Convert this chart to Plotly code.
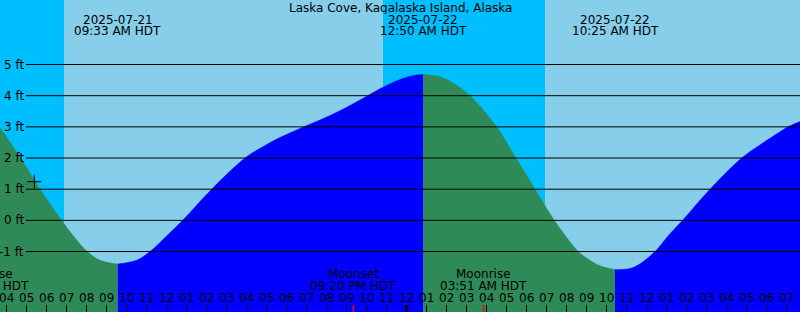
import plotly.graph_objects as go
import pandas as pd

# ---------------- data ----------------
title = "Laska Cove, Kagalaska Island, Alaska"

tide_times = [
    "2025-07-21 03:40", "2025-07-21 04:42", "2025-07-21 05:40", "2025-07-21 06:45",
    "2025-07-21 07:20", "2025-07-21 08:02", "2025-07-21 08:40", "2025-07-21 09:33",
    "2025-07-21 10:30", "2025-07-21 11:10", "2025-07-21 12:00", "2025-07-21 12:48",
    "2025-07-21 14:15", "2025-07-21 15:55", "2025-07-21 16:40", "2025-07-21 17:40",
    "2025-07-21 18:40", "2025-07-21 19:40", "2025-07-21 20:40", "2025-07-21 21:40",
    "2025-07-21 22:40", "2025-07-21 23:40", "2025-07-22 00:20", "2025-07-22 00:50",
    "2025-07-22 01:40", "2025-07-22 02:25", "2025-07-22 03:10", "2025-07-22 03:50",
    "2025-07-22 04:30", "2025-07-22 05:28", "2025-07-22 06:25", "2025-07-22 07:23",
    "2025-07-22 08:00", "2025-07-22 08:35", "2025-07-22 09:05", "2025-07-22 09:40",
    "2025-07-22 10:25", "2025-07-22 11:20", "2025-07-22 12:25", "2025-07-22 13:04",
    "2025-07-22 13:48", "2025-07-22 14:29", "2025-07-22 15:10", "2025-07-22 16:45",
    "2025-07-22 17:40", "2025-07-22 18:40", "2025-07-22 19:04", "2025-07-22 19:40",
]
tide_heights = [
    2.98, 2.0, 1.0, 0.0,
    -0.5, -1.0, -1.28, -1.40,
    -1.28, -1.0, -0.5, 0.0,
    1.0, 2.0, 2.31, 2.66,
    2.95, 3.22, 3.52, 3.86,
    4.22, 4.52, 4.65, 4.68,
    4.61, 4.37, 4.0, 3.54,
    3.0, 2.0, 1.0, 0.0,
    -0.55, -1.0, -1.25, -1.46,
    -1.58, -1.51, -1.0, -0.5,
    0.0, 0.51, 1.0, 2.0,
    2.42, 2.84, 3.0, 3.17,
]

# high / low events
event_times = ["2025-07-21 09:33", "2025-07-22 00:50", "2025-07-22 10:25"]
event_dates = ["2025-07-21", "2025-07-22", "2025-07-22"]
event_clock = ["09:33 AM HDT", "12:50 AM HDT", "10:25 AM HDT"]

# sun: daylight spans
day_starts = ["2025-07-21 06:52", "2025-07-22 06:55"]
day_ends = ["2025-07-21 22:49", "2025-07-22 19:40"]

# moon events
moon_times = ["2025-07-21 02:55", "2025-07-21 21:20", "2025-07-22 03:51"]
moon_names = ["Moonrise", "Moonset", "Moonrise"]
moon_clock = ["02:55 AM HDT", "09:20 PM HDT", "03:51 AM HDT"]

# current position marker
now_time = ["2025-07-21 05:23"]
now_height = [1.24]

midnight = "2025-07-22 00:00"

y_ticks = [-1, 0, 1, 2, 3, 4, 5]

x_start = "2025-07-21 03:40"
x_end = "2025-07-22 19:40"
y_range = [-2.94, 7.07]

# ---------------- styling ----------------
W, H = 800, 312
FONT = "DejaVu Sans"
NIGHT = "#00BFFF"
DAY = "#87CEEB"
RISE = "#0000FF"
FALL = "#2E8B57"


def ypaper(px):
    return 1 - px / H


t0 = pd.Timestamp(x_start)
t1 = pd.Timestamp(x_end)


def xpaper(t):
    return (pd.Timestamp(t) - t0) / (t1 - t0)


fig = go.Figure()

# background: night everywhere, daylight bands
shapes = [dict(type="rect", xref="paper", yref="paper", x0=0, x1=1, y0=0, y1=1,
               fillcolor=NIGHT, line_width=0, layer="below")]
for s, e in zip(day_starts, day_ends):
    shapes.append(dict(type="rect", xref="x", yref="paper", x0=s, x1=e, y0=0, y1=1,
                       fillcolor=DAY, line_width=0, layer="below"))

# tide fills, split at extremes
ts = list(tide_times)
split_idx = [0] + [ts.index(t) for t in event_times] + [len(ts) - 1]
bottom = -6
for a, b in zip(split_idx[:-1], split_idx[1:]):
    seg_x = ts[a:b + 1]
    seg_y = tide_heights[a:b + 1]
    color = RISE if seg_y[-1] > seg_y[0] else FALL
    fig.add_trace(go.Scatter(x=[seg_x[0], seg_x[-1]], y=[bottom, bottom], mode="lines",
                             line=dict(width=0), hoverinfo="skip", showlegend=False))
    fig.add_trace(go.Scatter(x=seg_x, y=seg_y, mode="lines",
                             line=dict(width=0.5, color=color, shape="spline", smoothing=1),
                             fill="tonexty", fillcolor=color, hoverinfo="skip", showlegend=False))

# current marker
fig.add_trace(go.Scatter(x=now_time, y=now_height, mode="markers",
                         marker=dict(symbol="cross-thin", size=10, line=dict(width=1, color="black")),
                         showlegend=False, hoverinfo="skip"))

# grid lines
for v in y_ticks:
    shapes.append(dict(type="line", xref="paper", yref="y", x0=26 / W, x1=1, y0=v, y1=v,
                       line=dict(color="black", width=1), layer="above"))

# moon ticks
for t in moon_times:
    if t0 <= pd.Timestamp(t) <= t1:
        shapes.append(dict(type="line", xref="x", yref="paper", x0=t, x1=t, y0=0, y1=7 / H,
                           line=dict(color="red", width=1.5), layer="above"))
shapes.append(dict(type="line", xref="x", yref="paper", x0=midnight, x1=midnight, y0=0, y1=7 / H,
                   line=dict(color="black", width=3), layer="above"))

annotations = []
f = dict(family=FONT, size=12, color="black")
common = dict(showarrow=False, font=f, yanchor="middle", height=12, borderpad=0)
annotations.append(dict(text=title, xref="paper", yref="paper", x=0.5, y=ypaper(7.5),
                        xanchor="center", **common))
for v in y_ticks:
    annotations.append(dict(text=f"{v} ft", xref="paper", yref="y", x=25 / W, y=v,
                            xanchor="right", **common))
for t, d, c in zip(event_times, event_dates, event_clock):
    annotations.append(dict(text=d, xref="x", yref="paper", x=t, y=ypaper(19.5),
                            xanchor="center", **common))
    annotations.append(dict(text=c, xref="x", yref="paper", x=t, y=ypaper(31.5),
                            xanchor="center", **common))
for t, n, c in zip(moon_times, moon_names, moon_clock):
    xp = xpaper(t)
    annotations.append(dict(text=n, xref="paper", yref="paper", x=xp, y=ypaper(274),
                            xanchor="center", **common))
    annotations.append(dict(text=c, xref="paper", yref="paper", x=xp, y=ypaper(286),
                            xanchor="center", **common))

fig.update_layout(
    width=W, height=H,
    margin=dict(l=0, r=0, t=0, b=0),
    paper_bgcolor=NIGHT, plot_bgcolor=NIGHT,
    shapes=shapes, annotations=annotations,
    showlegend=False,
    xaxis=dict(type="date", range=[x_start, x_end], tick0="2025-07-21 04:00", dtick=3600000,
               tickformat="%I", ticks="inside", ticklen=7, tickcolor="black", tickwidth=1,
               ticklabelposition="inside", ticklabeloverflow="allow", tickfont=f,
               showgrid=False, zeroline=False, showline=False, fixedrange=True),
    yaxis=dict(range=y_range, visible=False, showgrid=False, zeroline=False, fixedrange=True),
)

fig.write_html("out.html")
